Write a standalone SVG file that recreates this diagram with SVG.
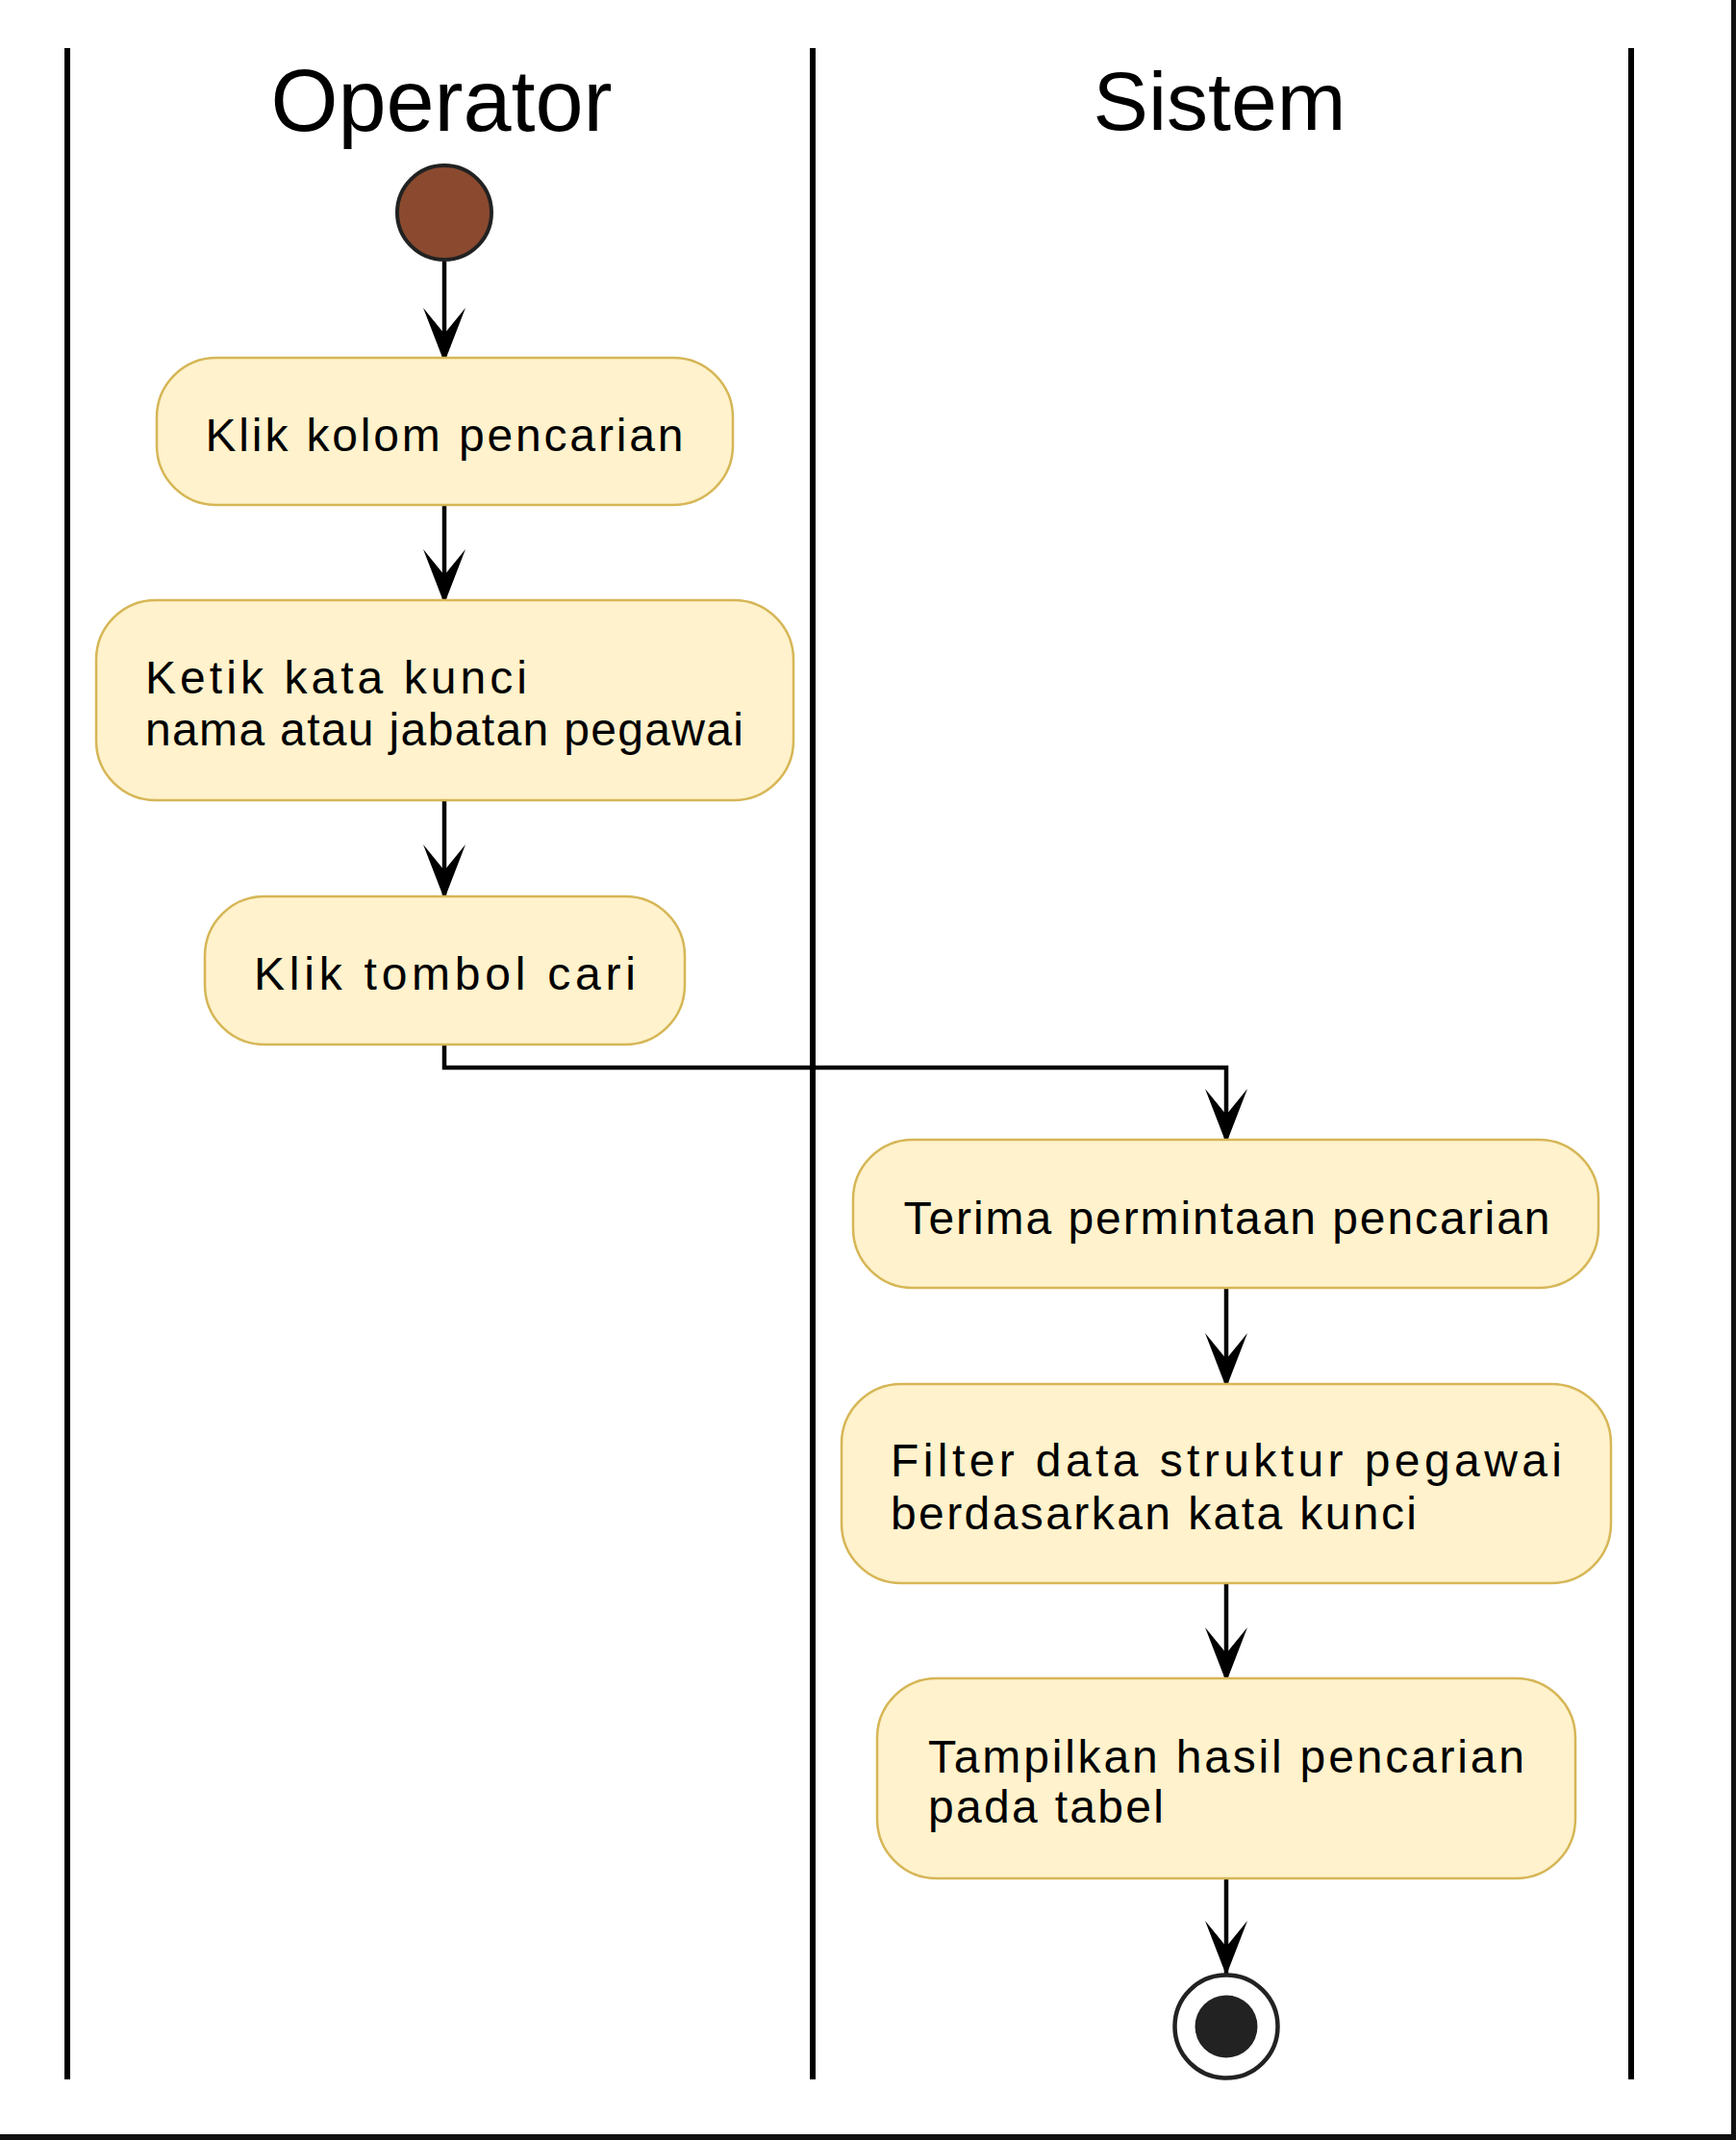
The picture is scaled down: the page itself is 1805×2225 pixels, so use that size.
<svg xmlns="http://www.w3.org/2000/svg" width="1805" height="2225" viewBox="0 0 1805 2225">
<style>
.lane{stroke:#000;stroke-width:6;fill:none}
.title{font-family:"Liberation Sans",Arial,sans-serif;font-size:90px;fill:#000;text-anchor:middle}
.box{fill:#fff2cc;stroke:#d6b656;stroke-width:2.5}
.lbl{font-family:"Liberation Sans",Arial,sans-serif;font-size:48px;fill:#000}
.edge{stroke:#000;stroke-width:4.5;fill:none}
</style>
<defs>
<marker id="arr" markerUnits="userSpaceOnUse" viewBox="-60 -25 64 50" refX="0" refY="0" markerWidth="64" markerHeight="50" orient="auto">
<path d="M0,0 L-57,-22 L-30,0 L-57,22 Z" fill="#000"/>
</marker>
</defs>
<rect width="1805" height="2225" fill="#fff"/>
<g id="frame">
<rect x="1800" y="0" width="5" height="2225" fill="#111"/>
<rect x="0" y="2219" width="1805" height="6" fill="#111"/>
</g>
<g id="lanes">
<line class="lane" x1="70" y1="50" x2="70" y2="2162"/>
<line class="lane" x1="845" y1="50" x2="845" y2="2162"/>
<line class="lane" x1="1696" y1="50" x2="1696" y2="2162"/>
<text class="title" x="459" y="136">Operator</text>
<text class="title" x="1268" y="135" style="font-size:86px">Sistem</text>
</g>
<g id="connectors">
<line class="edge" x1="462" y1="272" x2="462" y2="377" marker-end="url(#arr)"/>
<line class="edge" x1="462" y1="525" x2="462" y2="628" marker-end="url(#arr)"/>
<line class="edge" x1="462" y1="832" x2="462" y2="935" marker-end="url(#arr)"/>
<polyline class="edge" points="462,1086 462,1110 1275,1110 1275,1189" marker-end="url(#arr)"/>
<line class="edge" x1="1275" y1="1339" x2="1275" y2="1443" marker-end="url(#arr)"/>
<line class="edge" x1="1275" y1="1646" x2="1275" y2="1749" marker-end="url(#arr)"/>
<line class="edge" x1="1275" y1="1953" x2="1275" y2="2054" marker-end="url(#arr)"/>
</g>
<g id="start">
<circle cx="462" cy="221" r="49" fill="#8b4a2f" stroke="#222" stroke-width="4"/>
</g>
<g id="n1">
<rect class="box" x="163" y="372" width="599" height="153" rx="62" ry="62"/>
<text class="lbl" x="213.5" y="469" textLength="497" lengthAdjust="spacing">Klik kolom pencarian</text>
</g>
<g id="n2">
<rect class="box" x="100" y="624" width="725" height="208" rx="62" ry="62"/>
<text class="lbl" x="151" y="721" textLength="397" lengthAdjust="spacing">Ketik kata kunci</text>
<text class="lbl" x="151" y="775" textLength="622" lengthAdjust="spacing">nama atau jabatan pegawai</text>
</g>
<g id="n3">
<rect class="box" x="213" y="932" width="499" height="154" rx="62" ry="62"/>
<text class="lbl" x="264" y="1028.5" textLength="397" lengthAdjust="spacing">Klik tombol cari</text>
</g>
<g id="n4">
<rect class="box" x="887" y="1185" width="775" height="154" rx="62" ry="62"/>
<text class="lbl" x="939.5" y="1283" textLength="672" lengthAdjust="spacing">Terima permintaan pencarian</text>
</g>
<g id="n5">
<rect class="box" x="875" y="1439" width="800" height="207" rx="62" ry="62"/>
<text class="lbl" x="926" y="1535" textLength="698" lengthAdjust="spacing">Filter data struktur pegawai</text>
<text class="lbl" x="926" y="1590" textLength="547" lengthAdjust="spacing">berdasarkan kata kunci</text>
</g>
<g id="n6">
<rect class="box" x="912" y="1745" width="726" height="208" rx="62" ry="62"/>
<text class="lbl" x="965" y="1842.5" textLength="620" lengthAdjust="spacing">Tampilkan hasil pencarian</text>
<text class="lbl" x="965" y="1895" textLength="245" lengthAdjust="spacing">pada tabel</text>
</g>
<g id="end">
<circle cx="1275" cy="2107" r="53.5" fill="#fff" stroke="#222" stroke-width="4.5"/>
<circle cx="1275" cy="2107" r="32.5" fill="#222"/>
</g>
</svg>
